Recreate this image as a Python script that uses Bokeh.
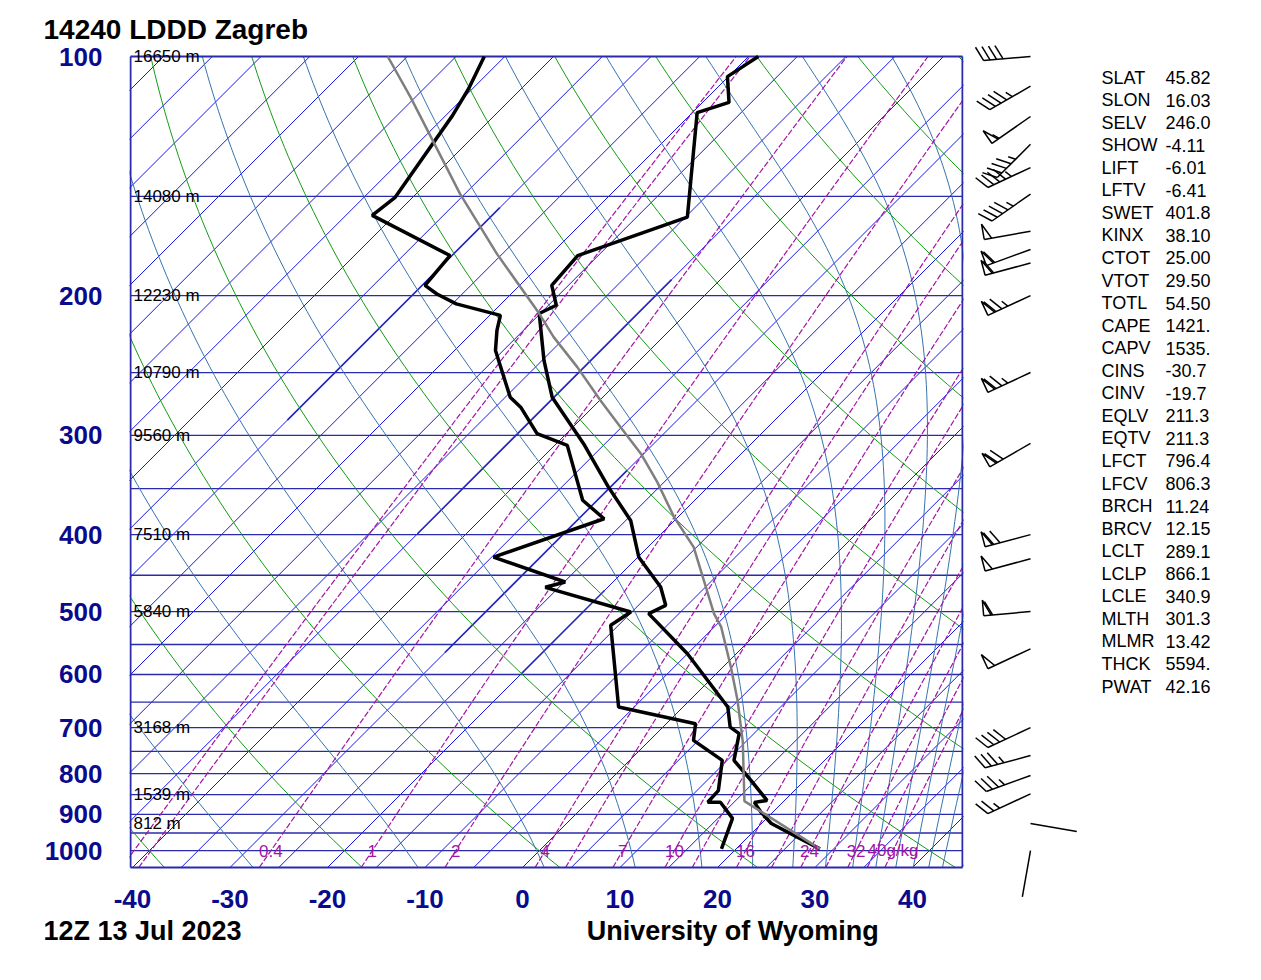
import numpy as np
from bokeh.plotting import figure
from bokeh.models import Range1d, FixedTicker, Title, PrintfTickFormatter
from bokeh.layouts import row, column
from bokeh.core.properties import value
from bokeh.embed import file_html
from bokeh.resources import INLINE

# ---------------- data ----------------
station_title = "14240 LDDD Zagreb"
time_label = "12Z 13 Jul 2023"
credit = "University of Wyoming"

temp_p = [100, 106.0, 114.2, 117.7, 159.3, 178.1, 194.2, 205.7, 210.7, 241.4, 268.5, 307.3,
          348.5, 383.9, 427.0, 465.6, 491.0, 502.9, 565.1, 659.4, 698.9, 712.4, 769.6, 815.7,
          864.4, 869.3, 894.6, 924.1, 959.2, 994.9]
temp_t = [-59.0, -60.1, -57.3, -59.5, -49.8, -57.1, -56.7, -54.2, -55.1, -49.8, -45.2, -37.2,
          -30.2, -24.5, -19.9, -14.6, -12.2, -13.1, -5.0, 4.6, 6.9, 8.5, 10.7, 14.5,
          18.2, 17.1, 18.8, 21.0, 24.8, 28.6]

dwpt_p = [100, 109.8, 118.7, 150.4, 158.5, 178.1, 194.2, 199.1, 204.9, 211.8, 221.3, 234.5,
          268.5, 276.4, 298.5, 308.8, 362.0, 382.0, 427.0, 458.9, 466.0, 500.6, 520.2, 659.4,
          692.0, 726.3, 769.6, 840.1, 868.9, 868.9, 910.6, 994.9]
dwpt_t = [-87.1, -85.4, -84.3, -81.8, -82.3, -70.2, -69.7, -67.6, -64.6, -58.9, -57.7, -55.8,
          -49.5, -47.4, -43.0, -38.7, -31.5, -27.4, -34.8, -24.9, -26.4, -15.1, -15.8, -6.6,
          3.0, 4.5, 9.5, 12.2, 12.3, 13.6, 16.5, 18.5]

parcel_p = [100, 112.5, 148.9, 177.1, 210.7, 225.6, 246.1, 271.1, 292.9, 316.3, 343.5, 380.1,
            414.8, 502.9, 522.7, 587.0, 646.5, 729.3, 866.1, 994.9]
parcel_t = [-97.0, -90.5, -75.5, -65.6, -55.1, -51.2, -45.7, -39.9, -35.1, -30.3, -25.7, -20.4,
            -15.3, -6.4, -4.3, 0.8, 4.9, 9.7, 15.95, 28.6]

pressure_ticks = [100, 200, 300, 400, 500, 600, 700, 800, 900, 1000]
temp_ticks = [-40, -30, -20, -10, 0, 10, 20, 30, 40]
isobar_levels = [150, 200, 250, 300, 350, 400, 450, 500, 550, 600, 650, 700, 750,
                 800, 850, 900, 950, 1000]
height_p = [100, 150, 200, 250, 300, 400, 500, 700, 850, 925]
height_txt = ["16650 m", "14080 m", "12230 m", "10790 m", "9560 m", "7510 m", "5840 m",
              "3168 m", "1539 m", "812 m"]
mixr_lines = [0.1, 0.12, 0.4, 1, 2, 4, 5, 7, 10, 12, 16, 20, 24, 28, 32, 36, 40]
mixr_labels = [0.4, 1, 2, 4, 7, 10, 16, 24, 32, 40]
mixr_label_txt = ["0.4", "1", "2", "4", "7", "10", "16", "24", "32", "40g/kg"]
dry_theta_c = list(range(-80, 241, 20))
moist_thetae_c = list(range(-70, 231, 20))
# isotherm segments drawn heavier in the picture: (temperature, lower p, upper p)
heavy_iso_t = [-70, -45, -30, -20]
heavy_iso_pbot = [287, 399, 563, 598]
heavy_iso_ptop = [155, 191, 332, 470]

barb_p = [100, 109, 119, 129, 138, 149, 166, 175, 182, 200, 250, 307, 400, 429, 500, 557,
          700, 759, 804, 848, 924, 1000]
barb_dir = [265, 240, 235, 225, 245, 235, 260, 250, 255, 245, 245, 240, 255, 255, 265, 245,
            245, 255, 250, 245, 100, 190]
barb_spd = [40, 45, 55, 45, 45, 45, 50, 60, 60, 75, 75, 70, 70, 50, 60, 50,
            40, 35, 35, 25, 2, 2]

index_names = ["SLAT", "SLON", "SELV", "SHOW", "LIFT", "LFTV", "SWET", "KINX", "CTOT", "VTOT",
               "TOTL", "CAPE", "CAPV", "CINS", "CINV", "EQLV", "EQTV", "LFCT", "LFCV", "BRCH",
               "BRCV", "LCLT", "LCLP", "LCLE", "MLTH", "MLMR", "THCK", "PWAT"]
index_vals = ["45.82", "16.03", "246.0", "-4.11", "-6.01", "-6.41", "401.8", "38.10", "25.00",
              "29.50", "54.50", "1421.", "1535.", "-30.7", "-19.7", "211.3", "211.3", "796.4",
              "806.3", "11.24", "12.15", "289.1", "866.1", "340.9", "301.3", "13.42", "5594.",
              "42.16"]

# ---------------- geometry ----------------
W, H = 1261, 980
LEFT, TOP = 130, 56           # pixel of the -40.2 / 100 hPa corner of the diagram
PX_W, PX_H = 832, 811
P_BOT, P_TOP = 1050.0, 100.0
PX_PER_C = 9.75
X_LEFT = -40.0 - 2.0 / PX_PER_C
X_RIGHT = X_LEFT + PX_W / PX_PER_C
PX_PER_LN = PX_H / np.log(P_BOT / P_TOP)
SKEW = PX_PER_LN / PX_PER_C
F_L, F_R, F_T, F_B = 129, 963, 44, 869   # plotting frame (a bit larger than the diagram)
P1_W = 966

BLUE = "#2A2AAC"
ISO_BLUE = "#1414F0"
LBL_BLUE = "#0A0A8C"
GREEN = "#139A13"
STEEL = "#3673AE"
PURPLE = "#A414A4"
FONT = "Liberation Sans"


def skx(t, p):
    return (np.asarray(t, dtype=float) + SKEW * np.log(P_BOT / np.asarray(p, dtype=float))).tolist()


def cx(px):
    return X_LEFT + (px - LEFT) / PX_PER_C


def cy(py):
    return P_TOP * np.exp((py - TOP) / PX_PER_LN)


def esat(tc):
    return 6.112 * np.exp(17.67 * tc / (tc + 243.5))


def theta_e(tk, p):
    es = esat(tk - 273.15)
    r = 622.0 * es / np.maximum(p - es, 1e-3)
    r = np.minimum(r, 400.0)
    return tk * (1000.0 / p) ** (0.2854 * (1 - 0.00028 * r)) * np.exp(
        (3.376 / tk - 0.00254) * r * (1 + 0.00081 * r))


pp = np.geomspace(P_BOT, P_TOP, 90)

p1 = figure(width=P1_W, height=H, x_range=Range1d(cx(F_L), cx(F_R)),
            y_range=Range1d(cy(F_B), cy(F_T)), y_axis_type="log", output_backend="svg",
            toolbar_location=None, min_border_left=F_L, min_border_right=P1_W - F_R,
            min_border_top=F_T, min_border_bottom=H - F_B)
p1.xgrid.visible = False
p1.ygrid.visible = False
p1.outline_line_color = None
p1.background_fill_color = "white"
p1.border_fill_color = "white"

# isotherms
iso_t = np.arange(-170, 50, 5)
p1.multi_line(xs=[skx([t, t], [P_BOT, P_TOP]) for t in iso_t],
              ys=[[P_BOT, P_TOP] for _ in iso_t], line_color=ISO_BLUE, line_width=1)
p1.multi_line(xs=[skx([t, t], [pb, pt]) for t, pb, pt in zip(heavy_iso_t, heavy_iso_pbot, heavy_iso_ptop)],
              ys=[[pb, pt] for pb, pt in zip(heavy_iso_pbot, heavy_iso_ptop)],
              line_color="#2828C0", line_width=1.6)
# isobars
p1.multi_line(xs=[[X_LEFT, X_RIGHT] for _ in isobar_levels],
              ys=[[lv, lv] for lv in isobar_levels], line_color=BLUE, line_width=1.3)
# dry adiabats
dxs = []
for th in dry_theta_c:
    tk = (th + 273.15) * (pp / 1000.0) ** 0.2857
    dxs.append(skx(tk - 273.15, pp))
p1.multi_line(xs=dxs, ys=[pp.tolist()] * len(dxs), line_color=GREEN, line_width=1)
# moist adiabats (constant theta-e)
mxs = []
for th in moist_thetae_c:
    target = th + 273.15
    lo = np.full_like(pp, 120.0)
    hi = np.full_like(pp, 340.0)
    with np.errstate(all="ignore"):
        for _ in range(60):
            mid = 0.5 * (lo + hi)
            big = theta_e(mid, pp) > target
            hi = np.where(big, mid, hi)
            lo = np.where(big, lo, mid)
    mxs.append(skx(0.5 * (lo + hi) - 273.15, pp))
p1.multi_line(xs=mxs, ys=[pp.tolist()] * len(mxs), line_color=STEEL, line_width=1)


def mixr_td(w, p):
    e = w * p / (622.0 + w)
    a = np.log(e / 6.112)
    return 243.5 * a / (17.67 - a)


wxs = [skx(mixr_td(w, pp), pp) for w in mixr_lines]
p1.multi_line(xs=wxs, ys=[pp.tolist()] * len(wxs), line_color=PURPLE, line_width=1.2,
              line_dash="6 2")

# frame of the diagram
p1.multi_line(xs=[[X_LEFT, X_LEFT], [X_RIGHT, X_RIGHT], [X_LEFT, X_RIGHT], [X_LEFT, X_RIGHT]],
              ys=[[P_BOT, P_TOP], [P_BOT, P_TOP], [P_TOP, P_TOP], [P_BOT, P_BOT]],
              line_color=BLUE, line_width=2)

# profiles
p1.line(skx(temp_t, temp_p), temp_p, line_color="black", line_width=3.5)
p1.line(skx(dwpt_t, dwpt_p), dwpt_p, line_color="black", line_width=3.5)
p1.line(skx(parcel_t, parcel_p), parcel_p, line_color="#7f7f7f", line_width=2.5)

# height labels
p1.text(x=[cx(133)] * len(height_p), y=height_p, text=height_txt, text_font=value(FONT),
        text_font_size="17px", text_color="black", text_baseline="middle", text_align="left")
# mixing ratio labels
p1.text(x=[skx(mixr_td(w, 1000.0), 1000.0) for w in mixr_labels], y=[1000.0] * len(mixr_labels),
        text=mixr_label_txt, text_font=value(FONT), text_font_size="17px", text_color=PURPLE,
        text_baseline="middle", text_align="center")

# axes
p1.xaxis.ticker = FixedTicker(ticks=temp_ticks)
p1.yaxis.ticker = FixedTicker(ticks=pressure_ticks)
p1.xaxis.formatter = PrintfTickFormatter(format="%d")
p1.yaxis.formatter = PrintfTickFormatter(format="%d")
for ax in (p1.xaxis[0], p1.yaxis[0]):
    ax.axis_line_color = None
    ax.major_tick_line_color = None
    ax.minor_tick_line_color = None
    ax.major_label_text_font = FONT
    ax.major_label_text_font_style = "bold"
    ax.major_label_text_font_size = "26px"
    ax.major_label_text_color = LBL_BLUE
p1.xaxis.major_label_standoff = 14
p1.yaxis.major_label_standoff = 21

p1.title.text = station_title
p1.title.align = "left"
p1.title.offset = 43 - F_L
p1.title.standoff = 0
p1.title.text_font = FONT
p1.title.text_font_style = "bold"
p1.title.text_font_size = "28px"
p1.title.text_color = "black"

footer = time_label + "\u00a0" * 46 + credit
p1.add_layout(Title(text=footer, align="left", offset=43 - F_L, standoff=6, text_font=FONT,
                    text_font_style="bold", text_font_size="27px", text_color="black"),
              "below")

# ---------------- right panel: wind barbs + indices ----------------
X0 = P1_W
p2 = figure(width=W - X0, height=H, x_range=Range1d(X0, W), y_range=Range1d(cy(H), cy(0)),
            y_axis_type="log", output_backend="svg", toolbar_location=None,
            x_axis_location=None, y_axis_location=None, min_border=0)
p2.xgrid.visible = False
p2.ygrid.visible = False
p2.outline_line_color = None
p2.background_fill_color = "white"
p2.border_fill_color = "white"

BARB_X = 1030


def barb(p0, direction, speed):
    L, fl, sp, pw = 47.0, 15.5, 6.5, 7.5
    d = np.radians(direction)
    ux, uy = np.sin(d), -np.cos(d)
    nx, ny = -uy, ux

    def pt(s, h):
        dx = s * ux + h * nx
        dy = s * uy + h * ny
        return BARB_X + dx, p0 * np.exp(dy / PX_PER_LN)

    segs = [[pt(0, 0), pt(L, 0)]]
    spd = int(round(speed / 5.0)) * 5
    n50, rem = divmod(spd, 50)
    n10, rem = divmod(rem, 10)
    n5 = rem // 5
    s = L
    for _ in range(n50):
        segs.append([pt(s, 0), pt(s, fl), pt(s - pw, 0)])
        s -= pw + 1.5
    for _ in range(n10):
        segs.append([pt(s, 0), pt(s + 7, 14)])
        s -= sp
    if n5:
        if spd == 5:
            s -= sp
        segs.append([pt(s, 0), pt(s + 3.5, 7)])
    return segs


bx, by = [], []
for pb, db, sb in zip(barb_p, barb_dir, barb_spd):
    for seg in barb(pb, db, sb):
        bx.append([float(q[0]) for q in seg])
        by.append([float(q[1]) for q in seg])
p2.multi_line(xs=bx, ys=by, line_color="black", line_width=1.5)

row_y = [77 + i * (686 - 77) / (len(index_names) - 1) for i in range(len(index_names))]
p2.text(x=[1101] * len(index_names), y=[cy(v) for v in row_y], text=index_names,
        text_font=value(FONT), text_font_size="18px", text_color="black",
        text_baseline="middle", text_align="left")
p2.text(x=[1165] * len(index_vals), y=[cy(v) for v in row_y], text=index_vals,
        text_font=value(FONT), text_font_size="18px", text_color="black",
        text_baseline="middle", text_align="left")

layout = row(p1, column(p2, spacing=0), spacing=0)
open("out.html", "w").write(file_html(layout, INLINE))
